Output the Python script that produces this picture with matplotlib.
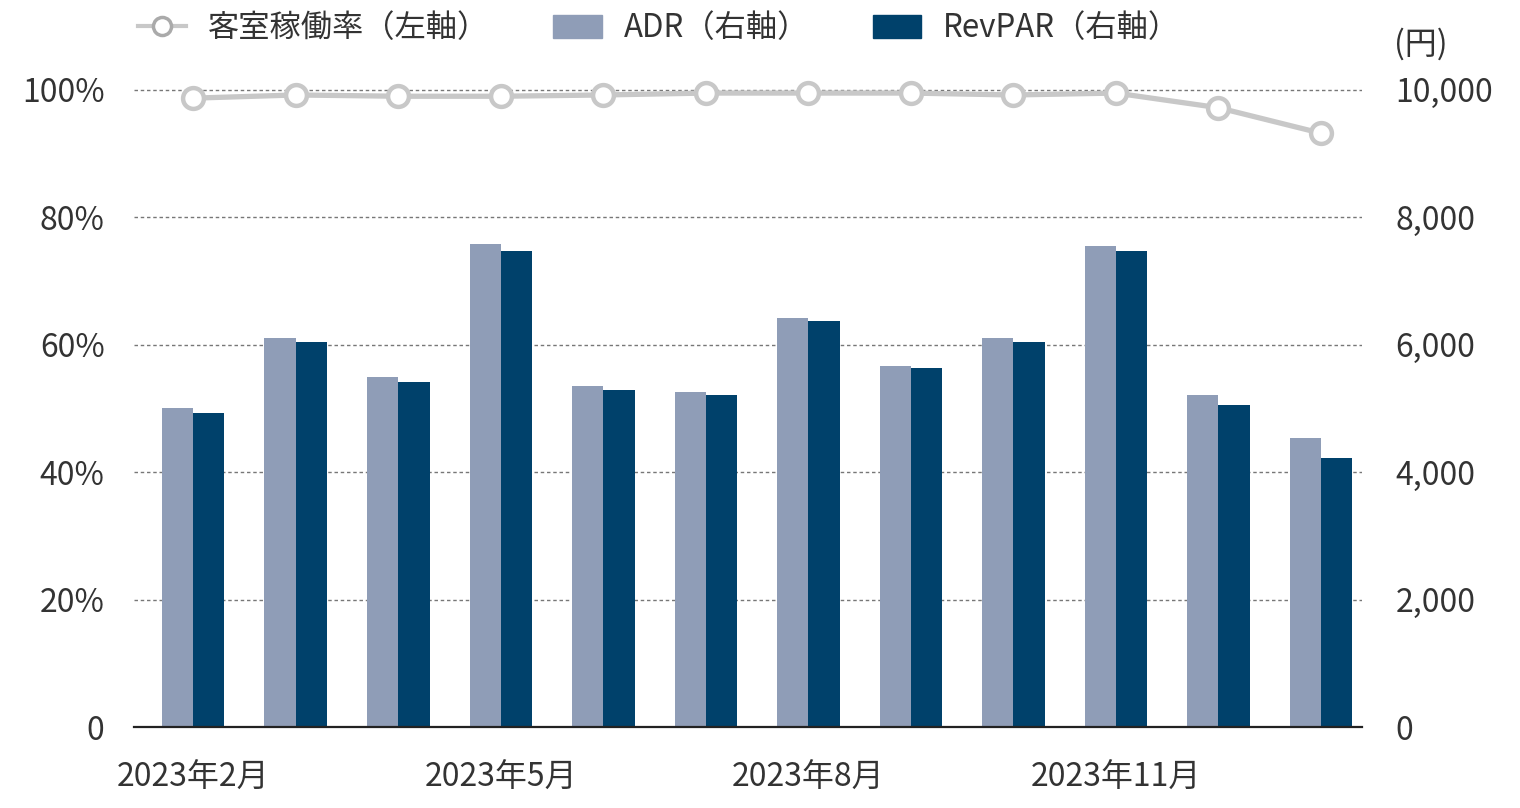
import matplotlib
matplotlib.use("Agg")
import matplotlib.pyplot as plt
from matplotlib.lines import Line2D
from matplotlib.patches import Patch
import numpy as np

plt.rcParams['font.family'] = ['Noto Sans CJK JP', 'DejaVu Sans']

# data
months = ["2023年2月", "2023年3月", "2023年4月", "2023年5月", "2023年6月", "2023年7月",
          "2023年8月", "2023年9月", "2023年10月", "2023年11月", "2023年12月", "2024年1月"]
occ = [98.7, 99.2, 99.0, 99.0, 99.2, 99.5, 99.5, 99.5, 99.2, 99.5, 97.2, 93.2]
adr = [5000, 6110, 5490, 7580, 5350, 5260, 6420, 5670, 6110, 7550, 5210, 4540]
revpar = [4930, 6040, 5420, 7470, 5290, 5210, 6370, 5640, 6040, 7470, 5050, 4220]

C_ADR = "#8f9db7"
C_REV = "#00416b"
C_LINE = "#c8c8c8"
C_TEXT = "#333333"
FS = 23

fig = plt.figure(figsize=(15.2, 8.08), dpi=100)
ax2 = fig.add_axes([0.088, 0.1002, 0.808, 0.828])  # bars, right scale
ax1 = ax2.twinx()
# left scale on the left, right scale on the right
ax1.yaxis.tick_left()
ax2.yaxis.tick_right()

x = np.arange(len(months))
w = 0.305
ax2.bar(x - w / 2, adr, w, color=C_ADR, zorder=2)
ax2.bar(x + w / 2, revpar, w, color=C_REV, zorder=2)
ax2.set_ylim(0, 10500)
ax2.set_yticks([0, 2000, 4000, 6000, 8000, 10000])
ax2.set_yticklabels(["0", "2,000", "4,000", "6,000", "8,000", "10,000"])
ax2.grid(axis="y", color="#777777", linestyle=(0, (2.5, 2)), linewidth=1.0, zorder=0)
ax2.set_axisbelow(True)

ax1.plot(x, occ, color=C_LINE, linewidth=3.8, marker="o", markersize=15,
         markerfacecolor="white", markeredgecolor=C_LINE, markeredgewidth=3.2,
         clip_on=False, zorder=5)
ax1.set_ylim(0, 105)
ax1.set_yticks([0, 20, 40, 60, 80, 100])
ax1.set_yticklabels(["0", "20%", "40%", "60%", "80%", "100%"])
ax1.set_zorder(ax2.get_zorder() + 1)
ax1.patch.set_visible(False)

ax2.set_xlim(-0.58, 11.4)
ax2.set_xticks(x[::3])
ax2.set_xticklabels(months[::3])

for a in (ax1, ax2):
    for s in a.spines.values():
        s.set_visible(False)
    a.tick_params(length=0, labelsize=FS, colors=C_TEXT)
ax2.spines["bottom"].set_visible(True)
ax2.spines["bottom"].set_color("#222222")
ax2.spines["bottom"].set_linewidth(1.6)
ax2.tick_params(axis="x", pad=25, labelsize=FS)
ax1.tick_params(axis="y", pad=21)
ax2.tick_params(axis="y", pad=24)

fig.text(0.917, 0.945, "(円)", fontsize=FS, color=C_TEXT, ha="left", va="center")

handles = [
    Line2D([0], [0], color=C_LINE, linewidth=3, marker="o", markersize=13,
           markerfacecolor="white", markeredgecolor="#aaaaaa", markeredgewidth=2.5),
    Patch(color=C_ADR),
    Patch(color=C_REV),
]
labels = ["客室稼働率（左軸）", "ADR（右軸）", "RevPAR（右軸）"]
fig.legend(handles, labels, loc="center left", bbox_to_anchor=(0.072, 0.965), ncol=3,
           frameon=False, fontsize=22.5, handlelength=1.55, handleheight=0.75,
           handletextpad=0.7, columnspacing=2.05, labelcolor=C_TEXT)

fig.savefig("out.png", dpi=100, facecolor="white")
